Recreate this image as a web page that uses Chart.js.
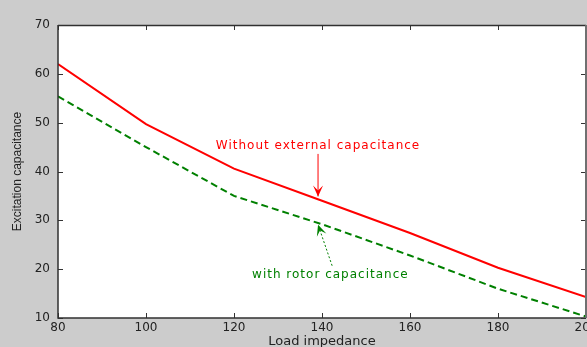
<!DOCTYPE html>
<html>
<head>
<meta charset="utf-8">
<script src="https://cdn.jsdelivr.net/npm/chart.js@4.4.0/dist/chart.umd.min.js"></script>
<style>
  html, body { margin: 0; padding: 0; overflow: hidden; background: #cccccc; }
  #wrap { width: 587px; height: 347px; overflow: hidden; }
  canvas { display: block; }
</style>
</head>
<body>
<div id="wrap"><canvas id="chart" width="620" height="355"></canvas></div>
<script>
// values
var loadImpedance = [80, 100, 120, 140, 160, 180, 200];
var withoutExternal = [62.0, 49.7, 40.6, 34.0, 27.4, 20.3, 14.3];
var withRotor = [55.4, 45.0, 35.0, 29.2, 22.8, 16.0, 10.3];
var xTicks = [80, 100, 120, 140, 160, 180, 200];
var yTicks = [10, 20, 30, 40, 50, 60, 70];

// text + arrows, in data coordinates
var notes = [
  {text: 'Without external capacitance', color: '#ff0000', tx: 139.1, ty: 45.3,
    from: [139.1, 43.6], to: [139.1, 34.9], dashed: false},
  {text: 'with rotor capacitance', color: '#008000', tx: 141.9, ty: 18.9,
    from: [142.3, 20.7], to: [139.1, 29.1], dashed: true},
];

function toPoints(vals) {
  return loadImpedance.map((x, i) => ({x: x, y: vals[i]}));
}

const framePlugin = {
  id: 'frame',
  beforeDraw(chart) {
    const a = chart.chartArea;
    const ctx = chart.ctx;
    ctx.save();
    ctx.fillStyle = '#cccccc';
    ctx.fillRect(0, 0, chart.width, chart.height);
    ctx.fillStyle = '#ffffff';
    ctx.fillRect(a.left, a.top, a.right - a.left, a.bottom - a.top);
    ctx.restore();
  },
  afterDatasetsDraw(chart) {
    const a = chart.chartArea;
    const ctx = chart.ctx;
    const xs = chart.scales.x;
    const ys = chart.scales.y;
    ctx.save();
    // inward ticks
    ctx.strokeStyle = '#333333';
    ctx.lineWidth = 1;
    ctx.beginPath();
    xTicks.forEach((v) => {
      const px = Math.round(xs.getPixelForValue(v)) + 0.5;
      ctx.moveTo(px, a.bottom); ctx.lineTo(px, a.bottom - 5);
      ctx.moveTo(px, a.top); ctx.lineTo(px, a.top + 5);
    });
    yTicks.forEach((v) => {
      const py = Math.round(ys.getPixelForValue(v)) + 0.5;
      ctx.moveTo(a.left, py); ctx.lineTo(a.left + 5, py);
      ctx.moveTo(a.right, py); ctx.lineTo(a.right - 5, py);
    });
    ctx.stroke();
    // box
    ctx.lineWidth = 1.5;
    ctx.strokeStyle = '#303030';
    ctx.beginPath();
    ctx.moveTo(a.left, a.top); ctx.lineTo(a.left, a.bottom); ctx.lineTo(a.right, a.bottom);
    ctx.moveTo(a.left, a.top + 0.5); ctx.lineTo(a.right, a.top + 0.5);
    ctx.stroke();
    ctx.strokeStyle = '#707070';
    ctx.lineWidth = 2;
    ctx.beginPath();
    ctx.moveTo(a.right, a.top); ctx.lineTo(a.right, a.bottom);
    ctx.stroke();

    // notes
    notes.forEach((n) => {
      const x1 = xs.getPixelForValue(n.from[0]), y1 = ys.getPixelForValue(n.from[1]);
      const x2 = xs.getPixelForValue(n.to[0]), y2 = ys.getPixelForValue(n.to[1]);
      ctx.strokeStyle = n.color;
      ctx.fillStyle = n.color;
      ctx.lineWidth = 1;
      ctx.setLineDash(n.dashed ? [2, 2] : []);
      ctx.beginPath();
      ctx.moveTo(x1, y1); ctx.lineTo(x2, y2);
      ctx.stroke();
      ctx.setLineDash([]);
      const ang = Math.atan2(y2 - y1, x2 - x1);
      ctx.save();
      ctx.translate(x2, y2);
      ctx.rotate(ang);
      ctx.beginPath();
      ctx.moveTo(0, 0);
      ctx.lineTo(-11, -5);
      ctx.lineTo(-6, 0);
      ctx.lineTo(-11, 5);
      ctx.closePath();
      ctx.fill();
      ctx.restore();

      ctx.font = '12px "DejaVu Sans"';
      if ('letterSpacing' in ctx) ctx.letterSpacing = '1px';
      ctx.textAlign = 'center';
      ctx.textBaseline = 'middle';
      ctx.fillText(n.text, xs.getPixelForValue(n.tx), ys.getPixelForValue(n.ty));
      if ('letterSpacing' in ctx) ctx.letterSpacing = '0px';
    });
    ctx.restore();
  },
};

new Chart(document.getElementById('chart').getContext('2d'), {
  type: 'line',
  data: {
    datasets: [{
      label: 'Without external capacitance',
      data: toPoints(withoutExternal),
      borderColor: '#ff0000',
      borderWidth: 2,
      pointRadius: 0,
      tension: 0,
      fill: false,
    }, {
      label: 'with rotor capacitance',
      data: toPoints(withRotor),
      borderColor: '#008000',
      borderWidth: 2,
      borderDash: [7, 4],
      pointRadius: 0,
      tension: 0,
      fill: false,
    }],
  },
  options: {
    responsive: false,
    animation: false,
    layout: {padding: {top: 25, right: 34, bottom: 0, left: 0}},
    plugins: {legend: {display: false}, tooltip: {enabled: false}},
    scales: {
      x: {
        type: 'linear',
        min: 80,
        max: 200,
        afterBuildTicks: (s) => { s.ticks = xTicks.map((v) => ({value: v})); },
        afterFit: (s) => { s.height = 37; },
        grid: {display: false, drawTicks: false},
        border: {display: false},
        ticks: {color: '#222222', font: {family: 'DejaVu Sans', size: 12}, padding: 3, maxRotation: 0},
        title: {display: true, text: 'Load impedance', color: '#222222',
          font: {family: 'DejaVu Sans', size: 13}, padding: {top: 0, bottom: 6}},
      },
      y: {
        min: 10,
        max: 70,
        afterBuildTicks: (s) => { s.ticks = yTicks.map((v) => ({value: v})); },
        afterFit: (s) => { s.width = 58; },
        grid: {display: false, drawTicks: false},
        border: {display: false},
        ticks: {color: '#222222', font: {family: 'DejaVu Sans', size: 12}, padding: 8},
        title: {display: true, text: 'Excitation capacitance', color: '#222222',
          font: {family: 'Liberation Sans', size: 12}, padding: {top: 10, bottom: 0}},
      },
    },
  },
  plugins: [framePlugin],
});
</script>
</body>
</html>
